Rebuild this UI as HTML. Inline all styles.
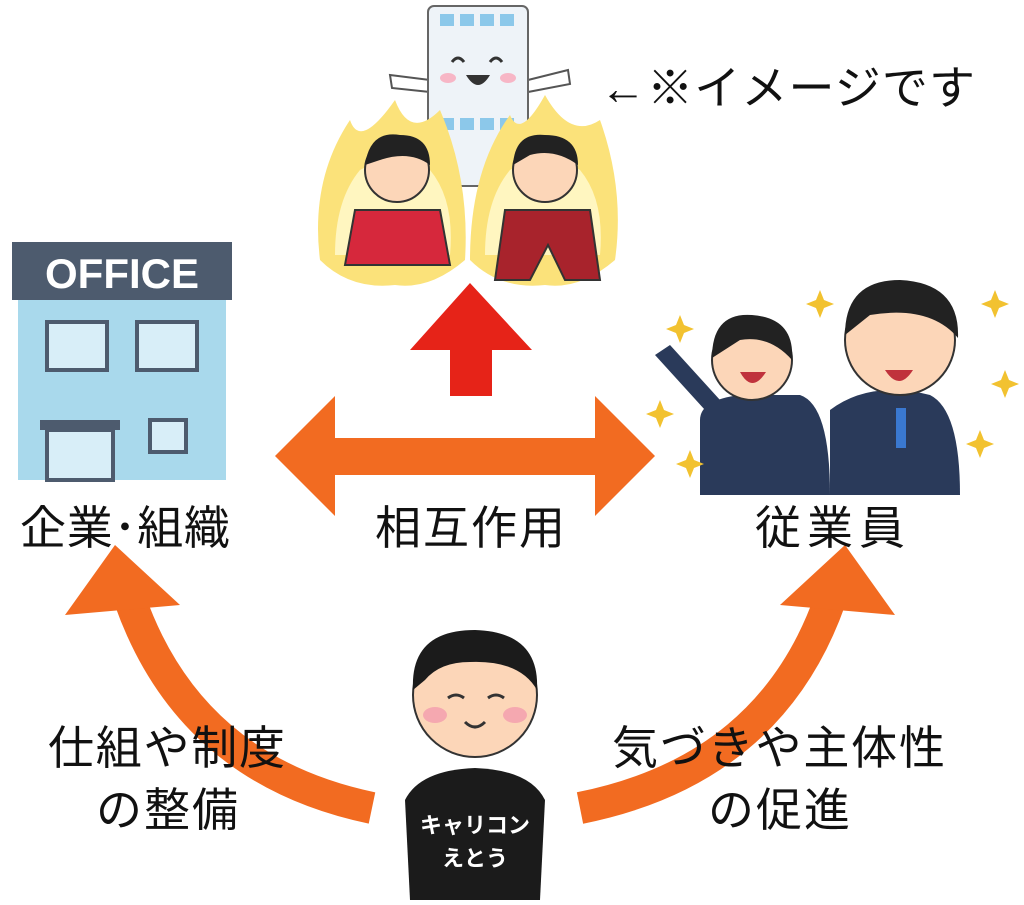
<!DOCTYPE html>
<html><head><meta charset="utf-8"><style>
body{margin:0;background:#fff;width:1024px;height:900px;overflow:hidden;font-family:"Liberation Sans","Noto Sans CJK JP",sans-serif}
</style></head><body>
<svg width="1024" height="900" viewBox="0 0 1024 900" xmlns="http://www.w3.org/2000/svg" font-family="Liberation Sans, Noto Sans CJK JP, sans-serif">
<!-- top building -->
<g>
<path d="M390 75 L430 80 L430 92 L392 88Z" fill="#fff" stroke="#555" stroke-width="2"/>
<path d="M528 80 L568 70 L570 84 L528 92Z" fill="#fff" stroke="#555" stroke-width="2"/>
<rect x="428" y="6" width="100" height="180" rx="6" fill="#eef3f8" stroke="#666" stroke-width="2"/>
<g fill="#8cc8ea">
<rect x="440" y="14" width="14" height="12"/><rect x="460" y="14" width="14" height="12"/><rect x="480" y="14" width="14" height="12"/><rect x="500" y="14" width="14" height="12"/>
<rect x="440" y="118" width="14" height="12"/><rect x="460" y="118" width="14" height="12"/><rect x="480" y="118" width="14" height="12"/><rect x="500" y="118" width="14" height="12"/>
<rect x="440" y="150" width="14" height="12"/><rect x="500" y="150" width="14" height="12"/>
</g>
<path d="M452 62 q6 -8 12 0 M490 62 q6 -8 12 0" stroke="#333" stroke-width="3" fill="none"/>
<path d="M466 75 q12 20 24 0Z" fill="#333"/>
<ellipse cx="448" cy="78" rx="8" ry="5" fill="#f7b6c6"/><ellipse cx="508" cy="78" rx="8" ry="5" fill="#f7b6c6"/>
</g>
<!-- fire figures -->
<g>
<path d="M320 260 Q310 180 350 120 Q360 150 395 100 Q410 140 440 110 Q470 180 465 260 Q430 290 395 285 Q350 290 320 260Z" fill="#fbe27a"/>
<path d="M470 260 Q470 170 510 115 Q520 140 545 95 Q570 140 600 120 Q625 190 615 260 Q580 290 545 285 Q500 290 470 260Z" fill="#fbe27a"/>
<path d="M335 255 Q335 200 360 170 Q395 150 430 170 Q455 200 450 255Z" fill="#fff6c0"/>
<path d="M485 255 Q485 200 510 170 Q545 150 580 170 Q605 200 600 255Z" fill="#fff6c0"/>
<circle cx="397" cy="170" r="32" fill="#fcd6b8" stroke="#333" stroke-width="2"/>
<path d="M365 165 Q370 130 400 135 Q430 135 430 165 Q410 150 380 160Z" fill="#222"/>
<path d="M355 210 L440 210 L450 265 L345 265Z" fill="#d6283c" stroke="#333" stroke-width="2"/>
<circle cx="545" cy="170" r="32" fill="#fcd6b8" stroke="#333" stroke-width="2"/>
<path d="M513 165 Q515 132 545 135 Q578 135 578 165 Q555 148 530 155Z" fill="#222"/>
<path d="M505 210 L590 210 L600 280 L565 280 L548 245 L530 280 L495 280Z" fill="#a8232c" stroke="#333" stroke-width="2"/>
</g>
<text x="600" y="104" font-size="46" fill="#111" textLength="375">←※イメージです</text>
<!-- office -->
<rect x="12" y="242" width="220" height="58" fill="#4d5b6e"/>
<text x="122" y="288" font-size="42" font-weight="bold" fill="#fff" text-anchor="middle">OFFICE</text>
<rect x="18" y="300" width="208" height="180" fill="#a9d9ec"/>
<rect x="47" y="322" width="60" height="48" fill="#d8eef8" stroke="#4d5b6e" stroke-width="4"/>
<rect x="137" y="322" width="60" height="48" fill="#d8eef8" stroke="#4d5b6e" stroke-width="4"/>
<rect x="40" y="420" width="80" height="10" fill="#4d5b6e"/>
<rect x="47" y="430" width="66" height="50" fill="#d8eef8" stroke="#4d5b6e" stroke-width="4"/>
<rect x="150" y="420" width="36" height="32" fill="#d8eef8" stroke="#4d5b6e" stroke-width="4"/>
<!-- red arrow -->
<path d="M470 283 L532 350 L492 350 L492 396 L450 396 L450 350 L410 350Z" fill="#e62318"/>
<!-- orange double arrow -->
<path d="M275 456 L335 396 L335 438 L595 438 L595 396 L655 456 L595 516 L595 475 L335 475 L335 516Z" fill="#f26b21"/>
<!-- employees -->
<g>
<path d="M700 420 Q700 400 740 395 L800 395 Q830 405 830 495 L700 495Z" fill="#2a3a5a"/>
<path d="M830 410 Q870 380 930 395 Q960 410 960 495 L830 495Z" fill="#2a3a5a"/>
<path d="M655 355 L705 410 L720 400 L670 345Z" fill="#2a3a5a"/>
<circle cx="752" cy="360" r="40" fill="#fcd6b8" stroke="#333" stroke-width="2"/>
<path d="M712 358 Q712 312 752 315 Q795 318 792 360 Q770 335 740 340Z" fill="#222"/>
<circle cx="900" cy="340" r="55" fill="#fcd6b8" stroke="#333" stroke-width="2"/>
<path d="M845 335 Q845 280 900 280 Q960 283 958 338 Q930 305 870 315Z" fill="#222"/>
<path d="M740 372 q12 22 26 0Z M885 370 q14 22 28 0Z" fill="#c0323c"/>
<rect x="896" y="408" width="10" height="40" fill="#3a78d0"/>
<g fill="#f2c230"><path d="M680 315 l4 10 10 4 -10 4 -4 10 -4-10 -10-4 10-4Z"/><path d="M820 290 l4 10 10 4 -10 4 -4 10 -4-10 -10-4 10-4Z"/><path d="M995 290 l4 10 10 4 -10 4 -4 10 -4-10 -10-4 10-4Z"/><path d="M1005 370 l4 10 10 4 -10 4 -4 10 -4-10 -10-4 10-4Z"/><path d="M690 450 l4 10 10 4 -10 4 -4 10 -4-10 -10-4 10-4Z"/><path d="M980 430 l4 10 10 4 -10 4 -4 10 -4-10 -10-4 10-4Z"/><path d="M660 400 l4 10 10 4 -10 4 -4 10 -4-10 -10-4 10-4Z"/></g>
</g>
<!-- curved arrows -->
<path d="M372 808 Q190 770 130 600" stroke="#f26b21" stroke-width="32" fill="none"/>
<path d="M65 615 L115 545 L180 605Z" fill="#f26b21"/>
<path d="M580 808 Q770 770 830 600" stroke="#f26b21" stroke-width="32" fill="none"/>
<path d="M780 605 L845 545 L895 615Z" fill="#f26b21"/>
<!-- labels -->
<g font-size="46" fill="#111">
<text x="20" y="544" textLength="210">企業･組織</text>
<text x="375" y="544" textLength="190">相互作用</text>
<text x="755" y="544" textLength="150">従業員</text>
<text x="48" y="764" textLength="237">仕組や制度</text>
<text x="96" y="826" textLength="142">の整備</text>
<text x="612" y="764" textLength="333">気づきや主体性</text>
<text x="708" y="826" textLength="142">の促進</text>
</g>
<!-- bottom person -->
<path d="M410 900 L405 800 Q420 770 475 768 Q530 770 545 800 L540 900Z" fill="#1b1b1b"/>
<circle cx="475" cy="695" r="62" fill="#fcd6b8" stroke="#333" stroke-width="2"/>
<path d="M413 690 Q410 630 475 630 Q540 632 537 690 Q520 660 470 662 Q440 662 425 680Z" fill="#1b1b1b"/>
<ellipse cx="435" cy="715" rx="12" ry="8" fill="#f5a8b0"/><ellipse cx="515" cy="715" rx="12" ry="8" fill="#f5a8b0"/>
<path d="M448 698 q8 -6 16 0 M488 698 q8 -6 16 0 M465 722 q10 10 20 0" stroke="#333" stroke-width="3" fill="none"/>
<text x="475" y="833" font-size="22" fill="#fff" font-weight="bold" text-anchor="middle">キャリコン</text>
<text x="475" y="866" font-size="22" fill="#fff" font-weight="bold" text-anchor="middle">えとう</text>
</svg>
</body></html>
